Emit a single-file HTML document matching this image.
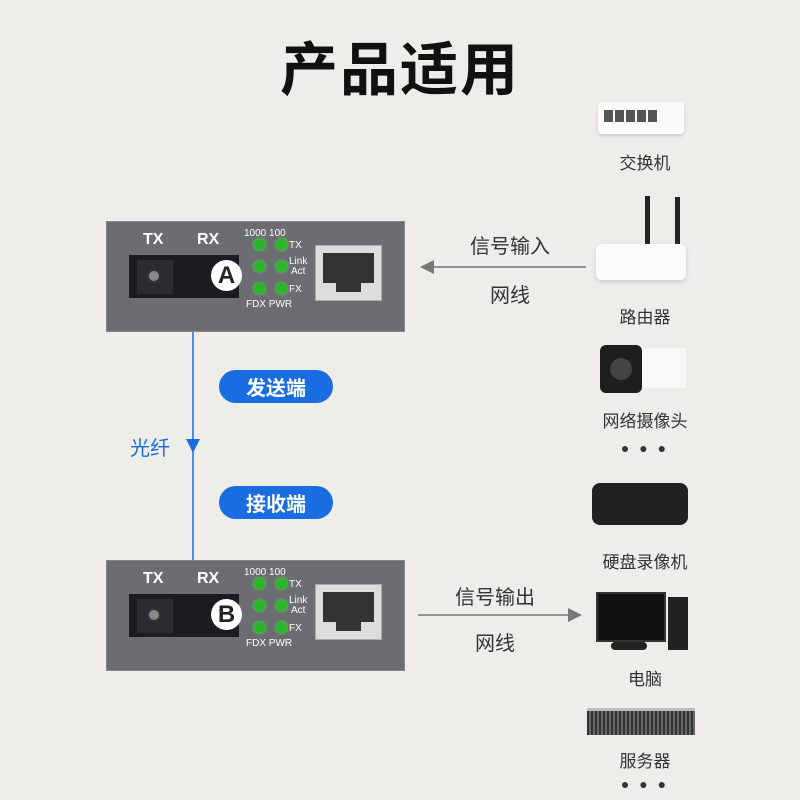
<!DOCTYPE html><html><head><meta charset="utf-8"><style>
body{margin:0;width:800px;height:800px;background:#efedea;position:relative;overflow:hidden;font-family:"Liberation Sans","Noto Sans CJK SC",sans-serif}
.a{position:absolute}
.t{position:absolute;text-align:center;color:#333}
.box{position:absolute;left:106px;width:299px;height:111px;background:#6c6d71;border:1px solid #888;box-sizing:border-box}
.port{position:absolute;left:22px;top:33px;width:110px;height:43px;background:#1b1c1f}
.sc{position:absolute;left:8px;top:5px;width:36px;height:34px;background:#2b2c2f}
.sc i{position:absolute;left:10px;top:9px;width:14px;height:14px;border-radius:50%;background:#888;border:2px solid #333;box-sizing:border-box}
.lt{position:absolute;left:82px;top:5px;width:31px;height:31px;border-radius:50%;background:#fff;color:#222;font:bold 24px "Liberation Sans";text-align:center;line-height:31px}
.lbl{position:absolute;color:#fff;font:bold 16px "Liberation Sans"}
.sm{position:absolute;color:#fff;font:10px "Liberation Sans";line-height:10px}
.led{position:absolute;width:11px;height:11px;border-radius:50%;background:#2bb52b;box-shadow:0 0 3px #4f4}
.rj{position:absolute;left:208px;top:23px;width:65px;height:54px;background:#ddd;border:1px solid #aaa}
.rj i{position:absolute;left:7px;top:7px;width:51px;height:30px;background:#333}
.rj b{position:absolute;left:20px;top:36px;width:25px;height:10px;background:#333}
.pill{position:absolute;left:219px;width:114px;height:33px;border-radius:17px;background:#1a6de0;color:#fff;font:bold 20px "Noto Sans CJK SC",sans-serif;text-align:center;line-height:33px}
</style></head><body>
<div class="t" style="left:0;width:800px;top:23px;font-size:58px;font-weight:bold;color:#111;font-family:'Noto Sans CJK SC',sans-serif;letter-spacing:2px">产品适用</div>

<div class="box" style="top:221px">
<div class="lbl" style="left:36px;top:9px">TX</div><div class="lbl" style="left:90px;top:9px">RX</div>
<div class="port"><div class="sc"><i></i></div><div class="lt">A</div></div>
<div class="sm" style="left:137px;top:7px">1000 100</div>
<div class="led" style="left:147px;top:17px"></div><div class="led" style="left:169px;top:17px"></div><div class="sm" style="left:182px;top:19px">TX</div>
<div class="led" style="left:147px;top:39px"></div><div class="led" style="left:169px;top:39px"></div><div class="sm" style="left:182px;top:35px;text-align:center">Link<br>Act</div>
<div class="led" style="left:147px;top:61px"></div><div class="led" style="left:169px;top:61px"></div><div class="sm" style="left:182px;top:63px">FX</div>
<div class="sm" style="left:139px;top:78px">FDX PWR</div>
<div class="rj"><i></i><b></b></div>
</div>

<div class="box" style="top:560px">
<div class="lbl" style="left:36px;top:9px">TX</div><div class="lbl" style="left:90px;top:9px">RX</div>
<div class="port"><div class="sc"><i></i></div><div class="lt">B</div></div>
<div class="sm" style="left:137px;top:7px">1000 100</div>
<div class="led" style="left:147px;top:17px"></div><div class="led" style="left:169px;top:17px"></div><div class="sm" style="left:182px;top:19px">TX</div>
<div class="led" style="left:147px;top:39px"></div><div class="led" style="left:169px;top:39px"></div><div class="sm" style="left:182px;top:35px;text-align:center">Link<br>Act</div>
<div class="led" style="left:147px;top:61px"></div><div class="led" style="left:169px;top:61px"></div><div class="sm" style="left:182px;top:63px">FX</div>
<div class="sm" style="left:139px;top:78px">FDX PWR</div>
<div class="rj"><i></i><b></b></div>
</div>

<svg class="a" style="left:0;top:0" width="800" height="800">
<line x1="193" y1="332" x2="193" y2="560" stroke="#1a6de0" stroke-width="1.5"/>
<polygon points="186,439 200,439 193,453" fill="#1a6de0"/>
<line x1="432" y1="267" x2="586" y2="267" stroke="#777" stroke-width="1.5"/>
<polygon points="420,267 434,260 434,274" fill="#777"/>
<line x1="418" y1="615" x2="570" y2="615" stroke="#777" stroke-width="1.5"/>
<polygon points="582,615 568,608 568,622" fill="#777"/>
</svg>
<div class="pill" style="top:370px">发送端</div>
<div class="pill" style="top:486px">接收端</div>
<div class="t" style="left:120px;width:60px;top:432px;font-size:20px;color:#1a6de0">光纤</div>
<div class="t" style="left:440px;width:140px;top:230px;font-size:20px">信号输入</div>
<div class="t" style="left:460px;width:100px;top:279px;font-size:20px">网线</div>
<div class="t" style="left:425px;width:140px;top:581px;font-size:20px">信号输出</div>
<div class="t" style="left:445px;width:100px;top:627px;font-size:20px">网线</div>

<div class="a" style="left:598px;top:102px;width:86px;height:32px;background:#fafafa;border-radius:3px;box-shadow:0 2px 3px #ccc"></div>
<div class="a" style="left:604px;top:110px;width:54px;height:12px;background:repeating-linear-gradient(90deg,#555 0 9px,#fafafa 9px 11px)"></div>
<div class="t" style="left:590px;width:110px;top:149px;font-size:17px">交换机</div>
<div class="a" style="left:645px;top:196px;width:5px;height:60px;background:#222"></div>
<div class="a" style="left:675px;top:197px;width:5px;height:60px;background:#222"></div>
<div class="a" style="left:596px;top:244px;width:90px;height:36px;background:#fbfbfb;border-radius:6px;box-shadow:0 2px 4px #ccc"></div>
<div class="t" style="left:590px;width:110px;top:303px;font-size:17px">路由器</div>
<div class="a" style="left:630px;top:348px;width:56px;height:40px;background:#f8f8f8;border-radius:3px"></div>
<div class="a" style="left:600px;top:345px;width:42px;height:48px;background:#1e1e1e;border-radius:6px"></div>
<div class="a" style="left:610px;top:358px;width:22px;height:22px;background:#444;border-radius:50%"></div>
<div class="t" style="left:585px;width:120px;top:407px;font-size:17px">网络摄像头</div>
<div class="t" style="left:590px;width:110px;top:440px;font-size:14px;letter-spacing:3px">● ● ●</div>
<div class="a" style="left:592px;top:483px;width:96px;height:42px;background:#222;border-radius:8px"></div>
<div class="t" style="left:580px;width:130px;top:548px;font-size:17px">硬盘录像机</div>
<div class="a" style="left:596px;top:592px;width:66px;height:46px;background:#111;border:2px solid #333"></div>
<div class="a" style="left:668px;top:597px;width:20px;height:53px;background:#222"></div>
<div class="a" style="left:611px;top:642px;width:36px;height:8px;background:#222;border-radius:4px"></div>
<div class="t" style="left:590px;width:110px;top:665px;font-size:17px">电脑</div>
<div class="a" style="left:587px;top:708px;width:108px;height:24px;background:repeating-linear-gradient(90deg,#333 0 2px,#666 2px 4px);border-top:3px solid #bbb"></div>
<div class="t" style="left:590px;width:110px;top:747px;font-size:17px">服务器</div>
<div class="t" style="left:590px;width:110px;top:776px;font-size:14px;letter-spacing:3px">● ● ●</div>
</body></html>
